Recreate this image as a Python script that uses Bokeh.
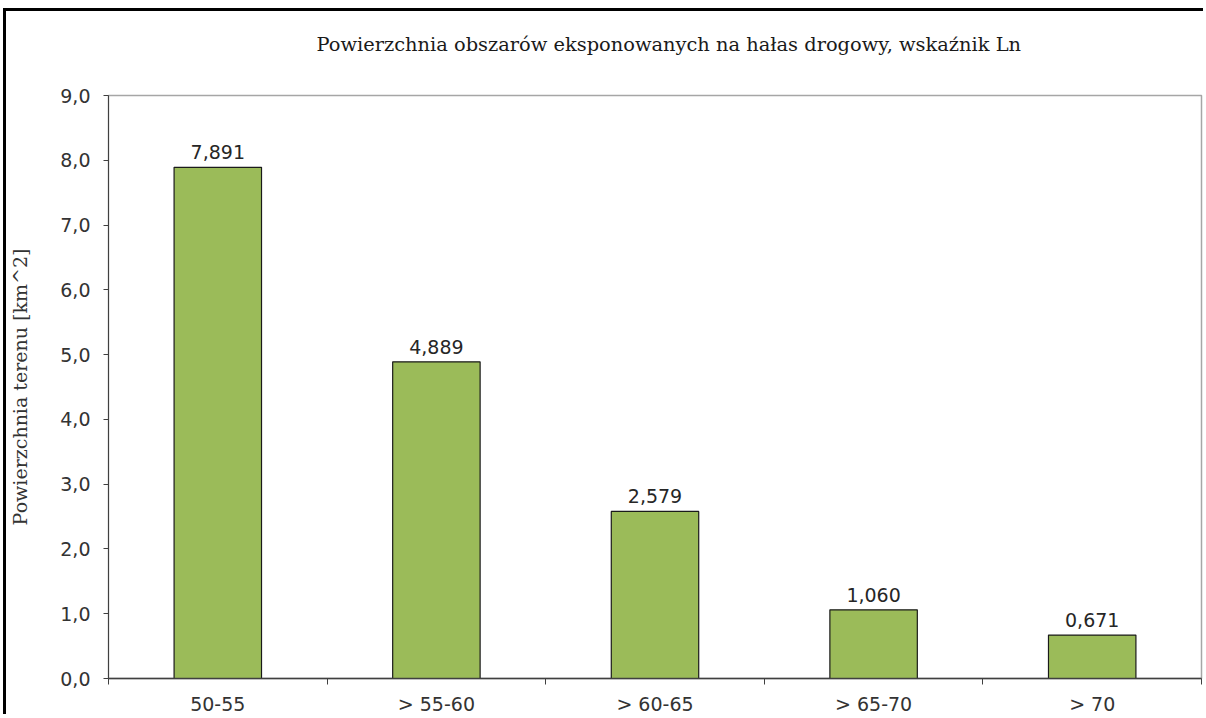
from bokeh.plotting import figure
from bokeh.models import FactorRange, Range1d, LinearAxis, FixedTicker, ColumnDataSource
from bokeh.embed import file_html
from bokeh.resources import INLINE

categories = ["50-55", "> 55-60", "> 60-65", "> 65-70", "> 70"]
values = [7.891, 4.889, 2.579, 1.060, 0.671]
value_labels = ["7,891", "4,889", "2,579", "1,060", "0,671"]
y_ticks = [0, 1, 2, 3, 4, 5, 6, 7, 8, 9]
y_tick_labels = ["0,0", "1,0", "2,0", "3,0", "4,0", "5,0", "6,0", "7,0", "8,0", "9,0"]
title_text = "Powierzchnia obszarów eksponowanych na hałas  drogowy, wskaźnik Ln"
y_title = "Powierzchnia terenu [km^2]"

src = ColumnDataSource(dict(cat=categories, val=values, lab=value_labels))

p = figure(width=1200, height=706, x_range=FactorRange(*categories, range_padding=0),
           y_range=Range1d(0, 9), output_backend="svg", toolbar_location=None,
           x_axis_location=None, y_axis_location=None,
           min_border_left=99, min_border_right=5, min_border_top=84, min_border_bottom=37,
           styles={"margin-top": "11px", "margin-left": "6px",
                   "box-shadow": "-3px -3px 0px 0px black"})

p.title.text = title_text
p.title.align = "left"
p.title.text_font = "DejaVu Serif"
p.title.text_font_size = "19.4px"
p.title.text_font_style = "normal"
p.title.text_color = "#1a1a1a"
p.title.offset = 208
try:
    p.title.padding = dict(left=0, right=0, top=0, bottom=40)
    p.title.vertical_align = "bottom"
    p.title.standoff = 0
except Exception:
    p.title.vertical_align = "top"
    p.title.standoff = 40

p.xgrid.visible = False
p.ygrid.visible = False
p.outline_line_color = "#A6A6A6"
p.outline_line_width = 1.5
p.background_fill_color = "white"
p.border_fill_color = "white"

p.vbar(x="cat", top="val", width=0.4, source=src, fill_color="#9BBB59",
       line_color="#1a1a1a", line_width=1.2)
p.text(x="cat", y="val", text="lab", source=src, text_align="center",
       text_baseline="bottom", y_offset=-8, text_font_size="19px",
       text_font={"value": "DejaVu Sans"}, text_color="#262626")

yaxis = LinearAxis(ticker=FixedTicker(ticks=y_ticks),
                   major_label_overrides={t: l for t, l in zip(y_ticks, y_tick_labels)})
yaxis.axis_label = y_title
yaxis.axis_label_text_font = "DejaVu Serif"
yaxis.axis_label_text_font_size = "19px"
yaxis.axis_label_text_font_style = "normal"
yaxis.axis_label_text_color = "#333333"
yaxis.axis_label_standoff = 26
yaxis.major_label_text_font = "DejaVu Sans"
yaxis.major_label_text_font_size = "19px"
yaxis.major_label_text_color = "#333333"
yaxis.major_label_standoff = 13
yaxis.major_tick_out = 5
yaxis.major_tick_in = 0
yaxis.minor_tick_line_color = None
yaxis.axis_line_color = "#404040"
yaxis.major_tick_line_color = "#404040"
p.add_layout(yaxis, "left")

# category labels at bar centres, ticks at category boundaries
centres = [i + 0.5 for i in range(len(categories))]
bounds = list(range(len(categories) + 1))
xaxis = LinearAxis(ticker=FixedTicker(ticks=centres, minor_ticks=bounds),
                   major_label_overrides={c: n for c, n in zip(centres, categories)})
xaxis.major_tick_line_color = None
xaxis.major_tick_out = 6
xaxis.major_tick_in = 0
xaxis.minor_tick_out = 6
xaxis.minor_tick_in = 0
xaxis.minor_tick_line_color = "#404040"
xaxis.axis_line_color = "#404040"
xaxis.axis_line_width = 1.5
xaxis.major_label_text_font = "DejaVu Sans"
xaxis.major_label_text_font_size = "19px"
xaxis.major_label_text_color = "#333333"
xaxis.major_label_standoff = 8
p.add_layout(xaxis, "below")

open("out.html", "w").write(file_html(p, INLINE))
